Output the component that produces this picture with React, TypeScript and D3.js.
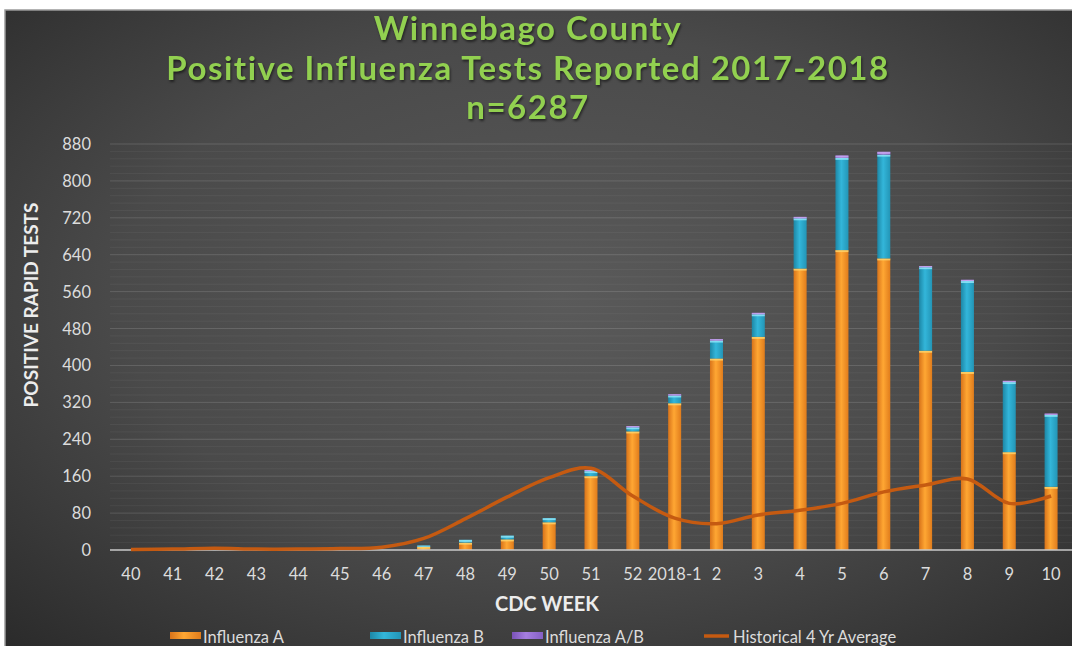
import React from "react";
import * as d3 from "d3";

const weeks = ["40","41","42","43","44","45","46","47","48","49","50","51","52","2018-1","2","3","4","5","6","7","8","9","10"];
const fluA = [0,0,0,0,0,0,0,7,16,23,60,160,257,318,415,462,610,650,632,432,386,212,137];
const fluB = [0,0,0,0,0,0,0,2,6,8,9,11,9,17,39,49,109,200,225,181,197,152,156];
const fluAB = [0,0,0,0,0,0,0,0,0,0,0,1,1,2,3,3,3,5,6,2,2,2,2];
const hist4yr = [1,2,4,2,2,3,6,25,68,115,157,177,117,69,57,76,86,101,126,141,154,101,117];
const yTicks = [0,80,160,240,320,400,480,560,640,720,800,880];

const W = 1072, H = 646;
const X0 = 110, X1 = 1072, Y0 = 550, Y1 = 144;

export default function App() {
  const x = d3.scaleBand<string>().domain(weeks).range([X0, X1]).paddingInner(0).paddingOuter(0);
  const y = d3.scaleLinear().domain([0, 880]).range([Y0, Y1]);
  const bw = 13;
  const series = [
    { key: "A", vals: fluA, grad: "gA", cap: "#ffd36a" },
    { key: "B", vals: fluB, grad: "gB", cap: "#8fe6f8" },
    { key: "AB", vals: fluAB, grad: "gAB", cap: "#c8a8f0" },
  ];
  const minor = d3.range(0, 881, 16);
  const line = d3.line<number>()
    .x((_, i) => (x(weeks[i]) as number) + x.bandwidth() / 2)
    .y((d) => y(d))
    .curve(d3.curveCatmullRom.alpha(0.5));

  const bars: React.ReactNode[] = [];
  weeks.forEach((w, i) => {
    let base = 0;
    const cx = (x(w) as number) + x.bandwidth() / 2;
    series.forEach((s) => {
      const v = s.vals[i];
      if (v > 0) {
        const yt = y(base + v), yb = y(base);
        const h = Math.max(yb - yt, 1.2);
        bars.push(
          <g key={w + s.key}>
            <rect x={cx - bw / 2} y={yb - h} width={bw} height={h} fill={`url(#${s.grad})`} />
            <rect x={cx - bw / 2} y={yb - h} width={bw} height={Math.min(2, h)} fill={s.cap} opacity={0.85} />
          </g>
        );
      }
      base += v;
    });
  });

  const legendItems = [
    { label: "Influenza A", x: 170, type: "bar", grad: "gA" },
    { label: "Influenza B", x: 370, type: "bar", grad: "gB" },
    { label: "Influenza A/B", x: 512, type: "bar", grad: "gAB" },
    { label: "Historical 4 Yr Average", x: 704, type: "line", grad: "" },
  ];

  const font = "Lato, 'Open Sans', sans-serif";

  return (
    <div style={{ position: "absolute", left: 0, top: 0 }}>
      <svg width={W} height={H} style={{ display: "block", fontFamily: font }}>
        <defs>
          <radialGradient id="bg" cx="0.52" cy="0.45" r="0.75">
            <stop offset="0" stopColor="#5a5a5a" />
            <stop offset="0.55" stopColor="#4a4a4a" />
            <stop offset="1" stopColor="#2b2b2b" />
          </radialGradient>
          <linearGradient id="gA" x1="0" x2="1" y1="0" y2="0">
            <stop offset="0" stopColor="#d8731a" />
            <stop offset="0.45" stopColor="#ffa733" />
            <stop offset="1" stopColor="#e07c1c" />
          </linearGradient>
          <linearGradient id="gB" x1="0" x2="1" y1="0" y2="0">
            <stop offset="0" stopColor="#1d87a6" />
            <stop offset="0.45" stopColor="#33b6da" />
            <stop offset="1" stopColor="#2395b6" />
          </linearGradient>
          <linearGradient id="gAB" x1="0" x2="1" y1="0" y2="0">
            <stop offset="0" stopColor="#7a52b8" />
            <stop offset="0.45" stopColor="#a57ee0" />
            <stop offset="1" stopColor="#8560c4" />
          </linearGradient>
        </defs>
        <rect x={0} y={0} width={W} height={H} fill="#ffffff" />
        <rect x={5} y={10} width={W - 4} height={H - 8} fill="url(#bg)" stroke="#9a9a9a" strokeWidth={1.5} />
        {minor.map((v) => (
          <line key={"m" + v} x1={X0} x2={X1} y1={y(v)} y2={y(v)} stroke="#ffffff" strokeOpacity={0.05} strokeWidth={1} />
        ))}
        {yTicks.slice(1).map((v) => (
          <line key={"g" + v} x1={X0} x2={X1} y1={y(v)} y2={y(v)} stroke="#ffffff" strokeOpacity={0.1} strokeWidth={1} />
        ))}
        <g fill="#92d050" fontWeight="bold" fontSize={33} letterSpacing={1.5} textAnchor="middle" style={{ filter: "drop-shadow(1px 2px 1px rgba(0,0,0,0.5))" }}>
          <text x={528} y={40}>Winnebago County</text>
          <text x={528} y={80}>Positive Influenza Tests Reported 2017-2018</text>
          <text x={528} y={119}>n=6287</text>
        </g>
        <g fill="#dcdcdc" fontSize={16.5} textAnchor="end">
          {yTicks.map((v) => (
            <text key={v} x={91} y={y(v) + 6}>{v}</text>
          ))}
        </g>
        <text transform={`translate(38,305) rotate(-90)`} textAnchor="middle" fill="#ececec" fontWeight="bold" fontSize={19}>POSITIVE RAPID TESTS</text>
        {bars}
        <line x1={X0} x2={X1} y1={Y0} y2={Y0} stroke="#c8c8c8" strokeWidth={1.5} />
        <path d={line(hist4yr) || ""} fill="none" stroke="#c55a11" strokeWidth={3.5} strokeLinejoin="round" />
        <g fill="#dcdcdc" fontSize={16.5} textAnchor="middle">
          {weeks.map((w) => (
            <text key={w} x={(x(w) as number) + x.bandwidth() / 2} y={580}>{w}</text>
          ))}
        </g>
        <text x={547} y={611} textAnchor="middle" fill="#ececec" fontWeight="bold" fontSize={20}>CDC WEEK</text>
        <g fontSize={16.5} fill="#dcdcdc">
          {legendItems.map((it) => (
            <g key={it.label}>
              {it.type === "bar" ? (
                <rect x={it.x} y={632} width={31} height={7} fill={`url(#${it.grad})`} />
              ) : (
                <line x1={it.x} x2={it.x + 25} y1={636} y2={636} stroke="#c55a11" strokeWidth={3.5} />
              )}
              <text x={it.x + (it.type === "bar" ? 33 : 29)} y={643}>{it.label}</text>
            </g>
          ))}
        </g>
      </svg>
    </div>
  );
}
